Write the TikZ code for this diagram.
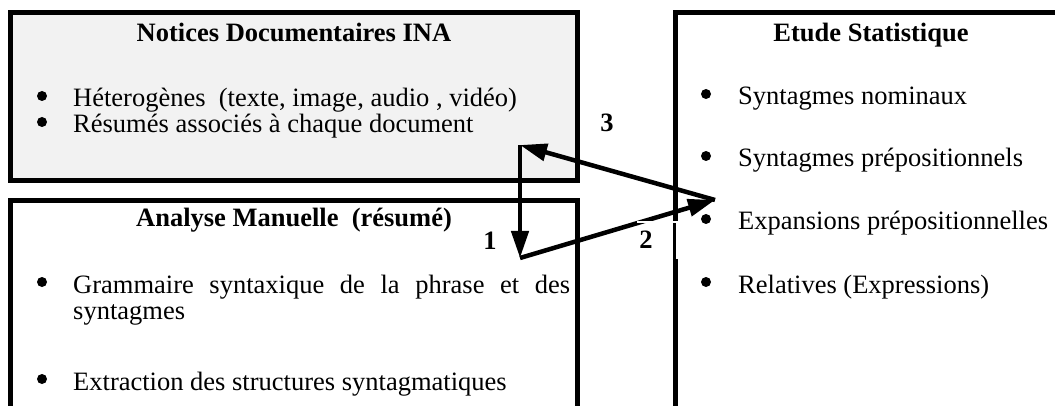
\documentclass[tikz,border=0pt]{standalone}
\usepackage{fontspec}
\setmainfont{Liberation Serif}
\usetikzlibrary{arrows.meta}
\definecolor{boxgray}{HTML}{F2F2F2}
\tikzset{
  frame/.style={draw=black, line width=5pt},
  txt/.style={anchor=base west, inner sep=0pt, font=\fontsize{26.5}{25}\selectfont},
  ttl/.style={anchor=base, inner sep=0pt, font=\fontsize{26.5}{25}\selectfont\bfseries},
  num/.style={anchor=base, inner sep=0pt, font=\fontsize{26.5}{25}\selectfont\bfseries},
  flow/.style={draw=black, line width=4.5pt, -{Triangle[length=27pt,width=17pt]}},
  bul/.style={fill=black},
}
\begin{document}
\begin{tikzpicture}[x=1pt,y=-1pt]
\useasboundingbox (0,0) rectangle (1055,406);
\clip (0,0) rectangle (1055,406);
% boxes
\path[frame, fill=boxgray] (10.5,12.5) rectangle (577.5,180.5);
\path[frame] (10.5,200.5) rectangle (577.5,440);
\path[frame] (675.5,12.5) rectangle (1090,440);
% top box
\node[ttl] (t1) at (294,42) {Notices Documentaires INA};
\fill[bul] (42,96) circle (5);
\node[txt] (a1) at (73,107) {Héterogènes\ \ (texte, image, audio , vidéo)};
\fill[bul] (42,122) circle (5);
\node[txt] (a2) at (73,133) {Résumés associés à chaque document};
% bottom box
\node[ttl] (t2) at (294,226) {Analyse Manuelle\ \ (résumé)};
\fill[bul] (42,282) circle (5);
\node[txt] (b1) at (73,293) {\makebox[497pt][s]{Grammaire syntaxique de la phrase et des}};
\node[txt] (b2) at (73,319) {syntagmes};
\fill[bul] (42,379) circle (5);
\node[txt] (b3) at (73,390) {Extraction des structures syntagmatiques};
% right box
\node[ttl] (t3) at (871,42) {Etude Statistique};
\fill[bul] (706,94) circle (5);
\node[txt] (c1t) at (738,105) {Syntagmes nominaux};
\fill[bul] (706,156) circle (5);
\node[txt] (c2t) at (738,167) {Syntagmes prépositionnels};
\fill[bul] (706,219) circle (5);
\node[txt] (c3t) at (738,230) {Expansions prépositionnelles};
\fill[bul] (706,282) circle (5);
\node[txt] (c4t) at (738,293) {Relatives (Expressions)};
% connectors
\coordinate (p1) at (520,145);
\coordinate (p2) at (520,258);
\coordinate (p3) at (715,200);
\draw[flow] (p1) -- (p2);
\draw[flow] (p2) -- (p3);
\draw[flow] (p3) -- (p1);
% labels
\node[num] (n1) at (490,250) {1};
\node[num] (n2) at (646,249) {2};
\node[num] (n3) at (607,132) {3};
% faint text-frame remnant
\coordinate (w1) at (637,222);
\coordinate (w2) at (677,222);
\coordinate (w3) at (677,259);
\draw[white, line width=1.2pt] (w1) -- (w2) -- (w3);
\end{tikzpicture}
\end{document}
